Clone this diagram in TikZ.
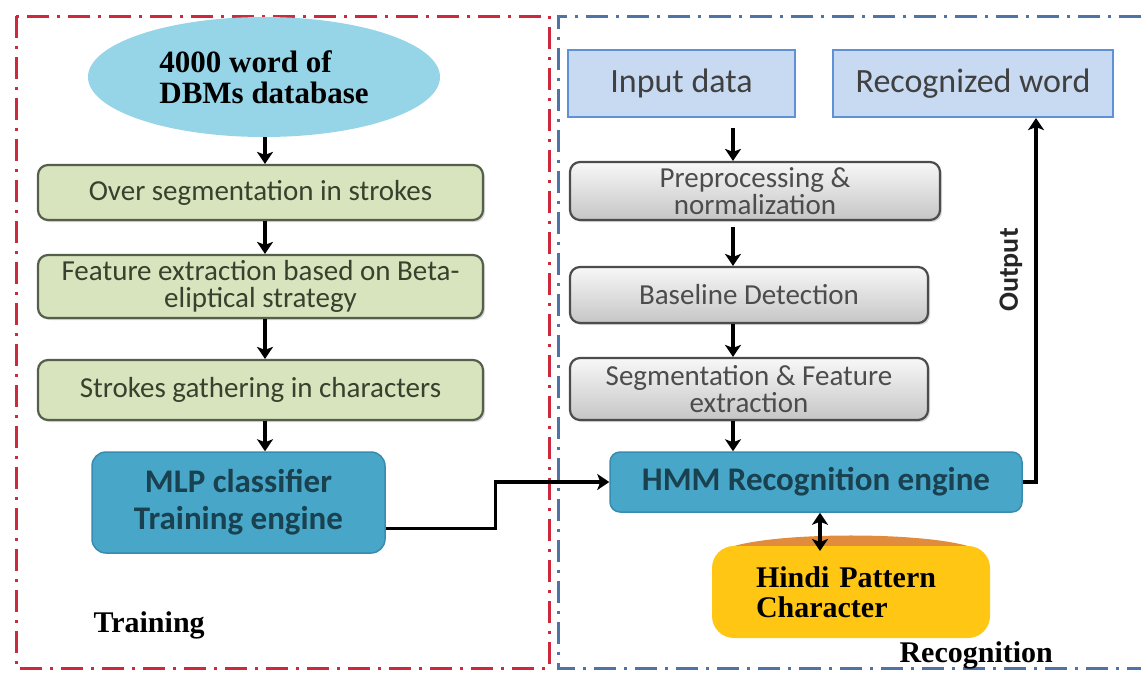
\documentclass[tikz,border=0pt]{standalone}
\usepackage{fontspec}
\setmainfont{Liberation Serif}
\newfontfamily\calfont{Carlito}
\usetikzlibrary{arrows.meta,shapes.geometric,shadows}
\definecolor{redframe}{RGB}{205,40,60}
\definecolor{blueframe}{RGB}{80,115,165}
\definecolor{ellfill}{RGB}{150,212,232}
\definecolor{greenfill}{RGB}{215,228,190}
\definecolor{greenline}{RGB}{85,95,75}
\definecolor{greentext}{RGB}{55,65,45}
\definecolor{tealfill}{RGB}{72,166,200}
\definecolor{tealline}{RGB}{55,140,175}
\definecolor{tealtext}{RGB}{25,65,80}
\definecolor{bluefill}{RGB}{200,218,242}
\definecolor{blueline}{RGB}{95,145,215}
\definecolor{yellowfill}{RGB}{255,198,20}
\definecolor{orangecap}{RGB}{225,140,60}
\begin{document}
\begin{tikzpicture}[x=1pt,y=-1pt,
  framered/.style={draw=redframe,line width=3pt,dash pattern=on 22pt off 8pt on 3pt off 8pt},
  frameblue/.style={draw=blueframe,line width=3pt,dash pattern=on 22pt off 8pt on 3pt off 8pt},
  greenbox/.style={draw=greenline,line width=2.2pt,fill=greenfill,rounded corners=10pt,
    minimum width=445pt,text=greentext,align=center,inner sep=2pt,
    font=\calfont\fontsize{29}{27}\selectfont,
    drop shadow={opacity=0.3,shadow xshift=2pt,shadow yshift=-2pt}},
  graybox/.style={draw=gray!60!black,line width=2.2pt,top color=gray!6,bottom color=gray!45,
    rounded corners=10pt,text=black!70,align=center,inner sep=2pt,
    font=\calfont\fontsize{29}{27}\selectfont,
    drop shadow={opacity=0.3,shadow xshift=2pt,shadow yshift=-2pt}},
  bluebox/.style={draw=blueline,line width=2.2pt,fill=bluefill,text=black!75,align=center,
    font=\calfont\fontsize{34}{38}\selectfont},
  tealbox/.style={draw=tealline,line width=1.5pt,fill=tealfill,rounded corners=14pt,
    text=tealtext,align=center,font=\calfont\bfseries\fontsize{33}{37}\selectfont},
  serifbold/.style={font=\bfseries\fontsize{30}{34}\selectfont,text=black},
  arr/.style={line width=3.2pt,-{Stealth[length=12pt,width=16pt,inset=3pt]}},
  darr/.style={line width=3.2pt,{Stealth[length=12pt,width=16pt,inset=3pt]}-{Stealth[length=12pt,width=16pt,inset=3pt]}}]
\useasboundingbox (0,0) rectangle (1141,673);
% frames
\draw[framered] (16,16) rectangle (549,668);
\draw[frameblue] (1141,16) -- (558,16) -- (558,668) -- (1141,668);
% training side
\node[ellipse,fill=ellfill,minimum width=352pt,minimum height=120pt,align=left,
  font=\bfseries\fontsize{31}{31}\selectfont,inner sep=0pt] (ell) at (264,77)
  {4000 word of\\DBMs database};
\node[greenbox,minimum height=55pt] (b1) at (260.5,192.5) {Over segmentation in strokes};
\node[greenbox,minimum height=63pt] (b2) at (260.5,286.5) {Feature extraction based on Beta-\\eliptical strategy};
\node[greenbox,minimum height=60pt] (b3) at (260.5,390) {Strokes gathering in characters};
\node[tealbox,minimum width=293pt,minimum height=101pt] (mlp) at (238.5,502.5) {MLP classifier\\Training engine};
\node[serifbold,anchor=west] (train) at (90,625) {Training};
% recognition side
\node[bluebox,minimum width=227pt,minimum height=67pt] (in) at (681.5,83.5) {Input data};
\node[bluebox,minimum width=280pt,minimum height=67pt] (rec) at (973,83.5) {Recognized word};
\node[graybox,minimum width=370pt,minimum height=58pt] (pre) at (755,191) {Preprocessing \&\\normalization};
\node[graybox,minimum width=358pt,minimum height=56pt] (base) at (749,295) {Baseline Detection};
\node[graybox,minimum width=358pt,minimum height=62pt] (seg) at (749,389) {Segmentation \& Feature\\extraction};
\node[tealbox,rounded corners=10pt,minimum width=412pt,minimum height=60pt] (hmm) at (816,482) {HMM Recognition engine};
% database cylinder
\fill[orangecap] (716,558) .. controls (716,528) and (986,528) .. (986,558) -- cycle;
\node[fill=yellowfill,rounded corners=22pt,minimum width=278pt,minimum height=92pt,
  align=left,font=\bfseries\fontsize{30}{30}\selectfont,text=black,text width=190pt] (db) at (851,592)
  {Hindi Pattern\\Character};
\coordinate (dbtop) at (820,551);
\node[serifbold,anchor=west] (recog) at (896,655) {Recognition};
\node[rotate=90,font=\calfont\bfseries\fontsize{28}{30}\selectfont,text=black!85] (outl) at (1011,270) {Output};
% connectors
\draw[arr] (ell.south -| 265,0) -- (b1.north -| 265,0);
\draw[arr] (b1.south -| 265,0) -- (b2.north -| 265,0);
\draw[arr] (b2.south -| 265,0) -- (b3.north -| 265,0);
\draw[arr] (b3.south -| 265,0) -- (mlp.north -| 265,0);
\draw[arr,shorten <=10pt] (in.south -| 733,0) -- (pre.north -| 733,0);
\draw[arr,shorten <=6pt] (pre.south -| 733,0) -- (base.north -| 733,0);
\draw[arr] (base.south -| 733,0) -- (seg.north -| 733,0);
\draw[arr] (seg.south -| 733,0) -- (hmm.north -| 733,0);
\draw[arr] ([yshift=-26pt]mlp.east) -- ++(110,0) |- (hmm.west);
\draw[arr] (hmm.east) -- (hmm.east -| 1036,0) -- (rec.south -| 1036,0);
\draw[darr] (hmm.south -| 820,0) -- (dbtop);
\end{tikzpicture}
\end{document}
